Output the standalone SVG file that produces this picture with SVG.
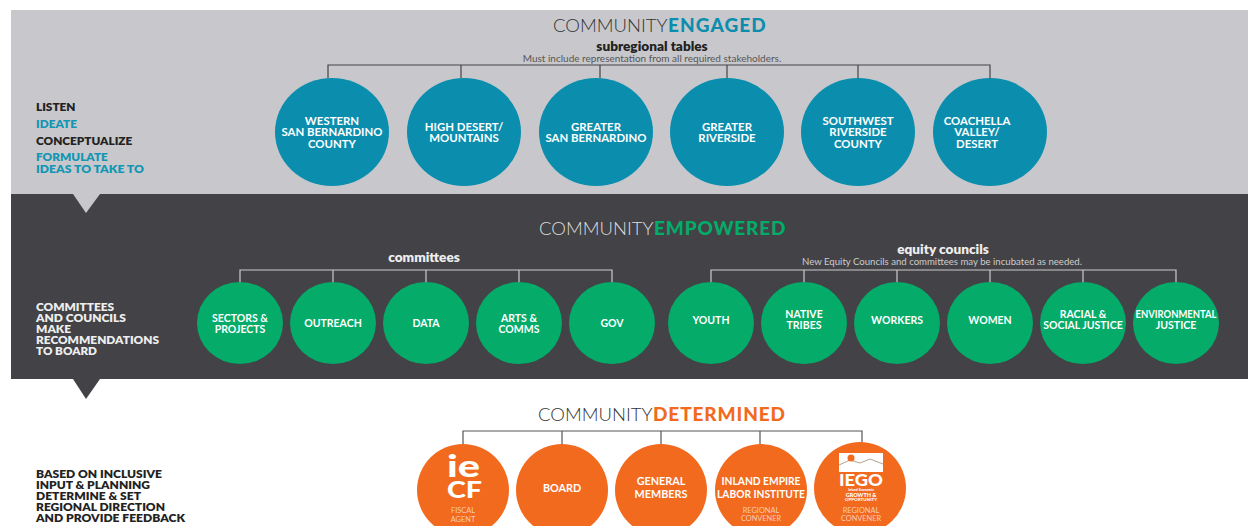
<svg xmlns="http://www.w3.org/2000/svg" width="1248" height="526" viewBox="0 0 1248 526">
<style>
text{font-family:Lato,"Open Sans","Liberation Sans",sans-serif}
.t{font-size:18.5px;font-weight:300}
.tb{font-weight:900;font-size:19px}
.s{font-size:13.6px;font-weight:800;text-anchor:middle}
.sub{font-size:10px;text-anchor:middle}
.n{font-size:11.4px;font-weight:700;fill:#fff;text-anchor:middle}
.g{font-size:10.5px;font-weight:700;fill:#fff;text-anchor:middle}
.o{font-size:10.8px;font-weight:700;fill:#fff;text-anchor:middle}
.c{font-size:7.4px;fill:#fff;fill-opacity:.65;text-anchor:middle}
.l{font-size:11.8px;font-weight:800}
.f{font-size:10.5px;font-weight:800}
.blue{fill:#0b8eae}.green{fill:#04ab69}.orange{fill:#f26a1e}
.conn{fill:none;stroke-width:1.2}
</style>
<rect width="1248" height="526" fill="#fff"/>
<rect x="11" y="10" width="1237" height="184" fill="#c8c8cc"/>
<rect x="11" y="194" width="1237" height="185" fill="#434246"/>
<polygon points="73,194 100,194 86,213" fill="#c8c8cc"/>
<polygon points="73,379 100,379 86,399" fill="#434246"/>

<text class="t" x="553" y="32"><tspan fill="#333">COMMUNITY</tspan><tspan class="tb" dx="0.500" letter-spacing="1.100" fill="#0b8eae">ENGAGED</tspan></text>
<text class="s" x="652" y="51" fill="#222">subregional tables</text>
<text class="sub" x="652" y="61.500" fill="#555">Must include representation from all required stakeholders.</text>
<text class="t" x="539" y="235"><tspan fill="#ddd">COMMUNITY</tspan><tspan class="tb" dx="0.500" letter-spacing=".85" fill="#04ab69">EMPOWERED</tspan></text>
<text class="s" x="424" y="262" fill="#eee">committees</text>
<text class="s" x="943" y="254" fill="#eee">equity councils</text>
<text class="sub" x="942" y="264.500" style="font-size:9.600px" fill="#ccc">New Equity Councils and committees may be incubated as needed.</text>
<text class="t" x="538" y="421"><tspan fill="#333">COMMUNITY</tspan><tspan class="tb" dx="0.500" letter-spacing=".9" fill="#f26a1e">DETERMINED</tspan></text>

<g id="connectors" class="conn">
<path stroke="#444" d="M328 78V65H990V78M461 65V78M600 65V78M727 65V78M858 65V78"/>
<path stroke="#ccc" d="M240 283V270H612V283M333 270V283M426 270V283M519 270V283"/>
<path stroke="#ccc" d="M711 283V270H1176V283M804 270V283M897 270V283M990 270V283M1083 270V283"/>
<path stroke="#555" d="M463 444V431H862V442M562 431V444M661 431V444M760 431V444"/>
</g>

<g id="side-engaged" class="l">
<text x="36" y="111" fill="#222">LISTEN</text>
<text x="36" y="128" fill="#1296b4">IDEATE</text>
<text x="36" y="145" fill="#222">CONCEPTUALIZE</text>
<text x="36" y="161" fill="#1296b4">FORMULATE</text>
<text x="36" y="173" fill="#1296b4" textLength="108" lengthAdjust="spacingAndGlyphs">IDEAS TO TAKE TO</text>
</g>
<g id="side-empowered" class="f" fill="#eee">
<text x="36" y="310.500" textLength="78" lengthAdjust="spacingAndGlyphs">COMMITTEES</text>
<text x="36" y="321.500" textLength="90" lengthAdjust="spacingAndGlyphs">AND COUNCILS</text>
<text x="36" y="332.500" textLength="35" lengthAdjust="spacingAndGlyphs">MAKE</text>
<text x="36" y="343.500" textLength="123" lengthAdjust="spacingAndGlyphs">RECOMMENDATIONS</text>
<text x="36" y="354.500" textLength="61" lengthAdjust="spacingAndGlyphs">TO BOARD</text>
</g>
<g id="side-determined" class="f" fill="#222">
<text x="36" y="478" textLength="126" lengthAdjust="spacingAndGlyphs">BASED ON INCLUSIVE</text>
<text x="36" y="489" textLength="114" lengthAdjust="spacingAndGlyphs">INPUT &amp; PLANNING</text>
<text x="36" y="500" textLength="105" lengthAdjust="spacingAndGlyphs">DETERMINE &amp; SET</text>
<text x="36" y="511" textLength="129" lengthAdjust="spacingAndGlyphs">REGIONAL DIRECTION</text>
<text x="36" y="522" textLength="149" lengthAdjust="spacingAndGlyphs">AND PROVIDE FEEDBACK</text>
</g>

<g id="n-western"><ellipse class="blue" cx="332" cy="132" rx="57" ry="54"/><text class="n" x="332" y="125">WESTERN</text><text class="n" x="332" y="136">SAN BERNARDINO</text><text class="n" x="332" y="148">COUNTY</text></g>
<g id="n-highdesert"><ellipse class="blue" cx="464" cy="132" rx="57" ry="54"/><text class="n" x="464" y="131">HIGH DESERT/</text><text class="n" x="464" y="142">MOUNTAINS</text></g>
<g id="n-gsb"><ellipse class="blue" cx="596" cy="132" rx="57" ry="54"/><text class="n" x="596" y="131">GREATER</text><text class="n" x="596" y="142">SAN BERNARDINO</text></g>
<g id="n-griverside"><ellipse class="blue" cx="727" cy="132" rx="57" ry="54"/><text class="n" x="727" y="131">GREATER</text><text class="n" x="727" y="142">RIVERSIDE</text></g>
<g id="n-swriverside"><ellipse class="blue" cx="858" cy="132" rx="57" ry="54"/><text class="n" x="858" y="125">SOUTHWEST</text><text class="n" x="858" y="136">RIVERSIDE</text><text class="n" x="858" y="148">COUNTY</text></g>
<g id="n-coachella"><ellipse class="blue" cx="990" cy="132" rx="57" ry="54"/><text class="n" x="977" y="125">COACHELLA</text><text class="n" x="977" y="136">VALLEY/</text><text class="n" x="977" y="148">DESERT</text></g>

<g id="n-sectors"><ellipse class="green" cx="240" cy="323" rx="43" ry="41"/><text class="g" x="240" y="322">SECTORS &amp;</text><text class="g" x="240" y="333">PROJECTS</text></g>
<g id="n-outreach"><ellipse class="green" cx="333" cy="323" rx="43" ry="41"/><text class="g" x="333" y="327">OUTREACH</text></g>
<g id="n-data"><ellipse class="green" cx="426" cy="323" rx="43" ry="41"/><text class="g" x="426" y="327">DATA</text></g>
<g id="n-arts"><ellipse class="green" cx="519" cy="323" rx="43" ry="41"/><text class="g" x="519" y="322">ARTS &amp;</text><text class="g" x="519" y="333">COMMS</text></g>
<g id="n-gov"><ellipse class="green" cx="612" cy="323" rx="43" ry="41"/><text class="g" x="612" y="327">GOV</text></g>
<g id="n-youth"><ellipse class="green" cx="711" cy="323" rx="43" ry="41"/><text class="g" x="711" y="323.500">YOUTH</text></g>
<g id="n-native"><ellipse class="green" cx="804" cy="323" rx="43" ry="41"/><text class="g" x="804" y="318">NATIVE</text><text class="g" x="804" y="329">TRIBES</text></g>
<g id="n-workers"><ellipse class="green" cx="897" cy="323" rx="43" ry="41"/><text class="g" x="897" y="323.500">WORKERS</text></g>
<g id="n-women"><ellipse class="green" cx="990" cy="323" rx="43" ry="41"/><text class="g" x="990" y="323.500">WOMEN</text></g>
<g id="n-racial"><ellipse class="green" cx="1083" cy="323" rx="43" ry="41"/><text class="g" x="1083" y="318">RACIAL &amp;</text><text class="g" x="1083" y="329">SOCIAL JUSTICE</text></g>
<g id="n-environmental"><ellipse class="green" cx="1176" cy="323" rx="43" ry="41"/><text class="g" x="1176" y="318" textLength="81" lengthAdjust="spacingAndGlyphs">ENVIRONMENTAL</text><text class="g" x="1176" y="329">JUSTICE</text></g>

<g id="n-iecf"><ellipse class="orange" cx="463" cy="490" rx="46" ry="46"/>
<text x="447" y="477" font-size="30" font-weight="900" fill="#fff" textLength="33" lengthAdjust="spacingAndGlyphs">ie</text>
<text x="447" y="498" font-size="22" font-weight="900" fill="#fff" textLength="35" lengthAdjust="spacingAndGlyphs">CF</text>
<text class="c" x="463" y="513">FISCAL</text><text class="c" x="463" y="522">AGENT</text></g>
<g id="n-board"><ellipse class="orange" cx="562" cy="490" rx="46" ry="46"/><text class="o" x="562" y="492">BOARD</text></g>
<g id="n-general"><ellipse class="orange" cx="661" cy="490" rx="46" ry="46"/><text class="o" x="661" y="485">GENERAL</text><text class="o" x="661" y="498">MEMBERS</text></g>
<g id="n-labor"><ellipse class="orange" cx="761" cy="490" rx="46" ry="46"/><text class="o" x="761" y="485" textLength="79" lengthAdjust="spacingAndGlyphs">INLAND EMPIRE</text><text class="o" x="761" y="498" textLength="88" lengthAdjust="spacingAndGlyphs">LABOR INSTITUTE</text><text class="c" x="761" y="513">REGIONAL</text><text class="c" x="761" y="521">CONVENER</text></g>
<g id="n-iego"><ellipse class="orange" cx="860" cy="488" rx="46" ry="46"/>
<rect x="839" y="453" width="44" height="19" fill="#fff"/>
<path d="M839 465 L850 460 L860 463 L870 459 L883 464" fill="none" stroke="#a58a70" stroke-width=".8"/>
<circle cx="851" cy="458" r="3.500" fill="#f26a1e"/>
<text x="861" y="486" font-size="17" font-weight="900" fill="#fff" text-anchor="middle" textLength="44" lengthAdjust="spacingAndGlyphs">IEGO</text>
<text x="861" y="491" font-size="3.500" font-weight="900" fill="#fff" text-anchor="middle">Inland Economic</text>
<text x="861" y="496.500" font-size="5.500" font-weight="900" fill="#fff" text-anchor="middle">GROWTH &amp;</text>
<text x="861" y="501" font-size="4.500" font-weight="900" fill="#fff" text-anchor="middle">OPPORTUNITY</text>
<text class="c" x="861" y="513">REGIONAL</text><text class="c" x="861" y="521">CONVENER</text></g>
</svg>
